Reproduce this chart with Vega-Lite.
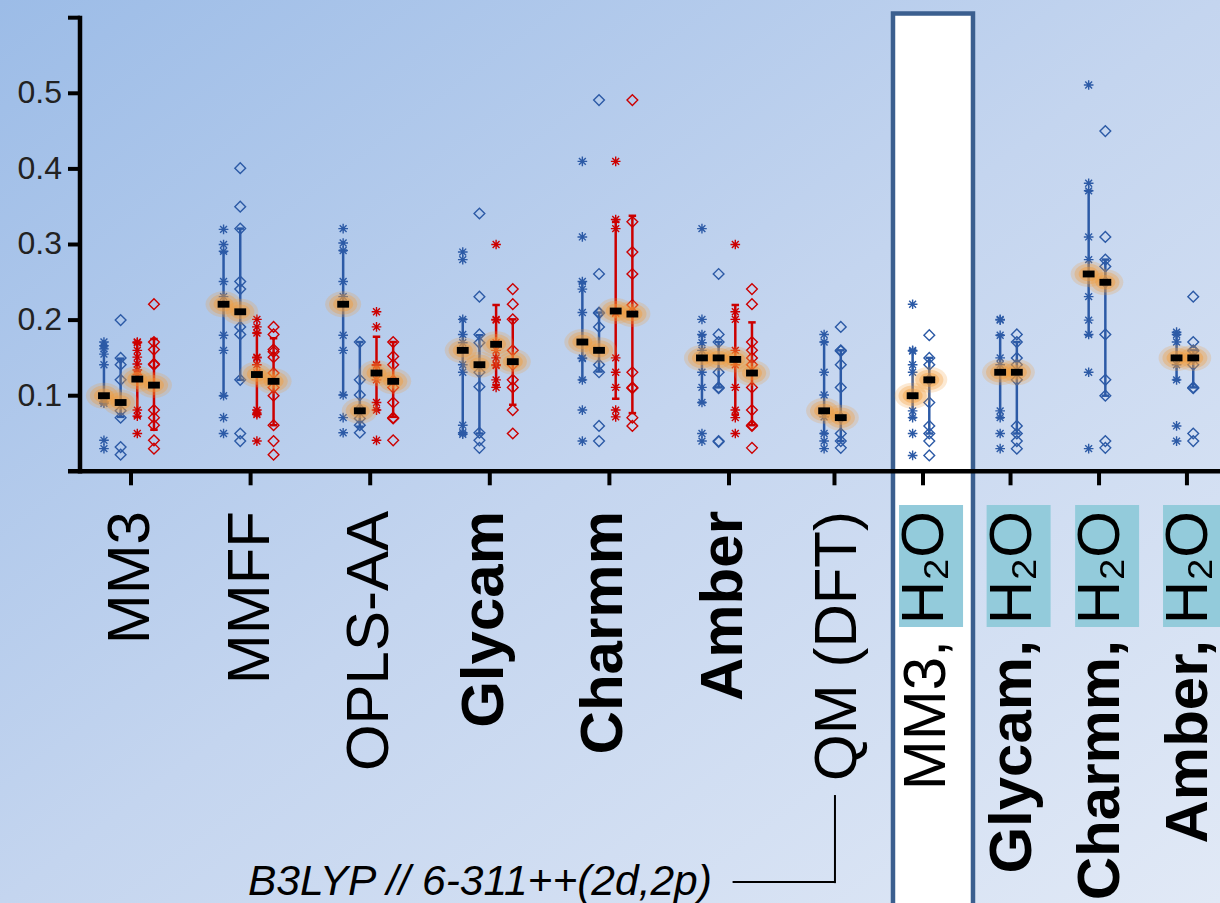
{
"$schema": "https://vega.github.io/schema/vega-lite/v6.json",
"width": 1220, "height": 903,
"autosize": {"type": "none"},
"padding": 0,
"background": "#c6d6ef",
"config": {"view": {"stroke": null}, "font": "Liberation Sans"},
"datasets": {
"grp": [
{"g":"MM3","pos":1,"n":4,"lab":"MM3","kind":"plain"},
{"g":"MMFF","pos":2,"n":4,"lab":"MMFF","kind":"plain"},
{"g":"OPLS","pos":3,"n":4,"lab":"OPLS-AA","kind":"plain"},
{"g":"Gly","pos":4,"n":4,"lab":"Glycam","kind":"bold"},
{"g":"Cha","pos":5,"n":4,"lab":"Charmm","kind":"bold"},
{"g":"Amb","pos":6,"n":4,"lab":"Amber","kind":"bold"},
{"g":"QM","pos":6.882,"n":2,"lab":"QM (DFT)","kind":"qm"},
{"g":"MM3w","pos":7.622,"n":2,"lab":"MM3,","kind":"water"},
{"g":"Glyw","pos":8.354,"n":2,"lab":"Glycam,","kind":"waterbold"},
{"g":"Chaw","pos":9.094,"n":2,"lab":"Charmm,","kind":"waterbold"},
{"g":"Ambw","pos":9.829,"n":2,"lab":"Amber,","kind":"waterbold"}
],
"yt": [{"v":0.1},{"v":0.2},{"v":0.3},{"v":0.4},{"v":0.5},{"v":0.6}],
"st": [
{"g":"MM3","s":"bs","m":0.100,"lo":0.090,"hi":0.165},
{"g":"MM3","s":"bd","m":0.091,"lo":0.072,"hi":0.149},
{"g":"MM3","s":"rs","m":0.122,"lo":0.072,"hi":0.170},
{"g":"MM3","s":"rd","m":0.114,"lo":0.055,"hi":0.175},
{"g":"MMFF","s":"bs","m":0.221,"lo":0.100,"hi":0.290},
{"g":"MMFF","s":"bd","m":0.211,"lo":0.121,"hi":0.321},
{"g":"MMFF","s":"rs","m":0.128,"lo":0.077,"hi":0.183},
{"g":"MMFF","s":"rd","m":0.119,"lo":0.061,"hi":0.176},
{"g":"OPLS","s":"bs","m":0.221,"lo":0.101,"hi":0.292},
{"g":"OPLS","s":"bd","m":0.080,"lo":0.059,"hi":0.171},
{"g":"OPLS","s":"rs","m":0.130,"lo":0.081,"hi":0.178},
{"g":"OPLS","s":"rd","m":0.119,"lo":0.072,"hi":0.171},
{"g":"Gly","s":"bs","m":0.160,"lo":0.050,"hi":0.201},
{"g":"Gly","s":"bd","m":0.141,"lo":0.050,"hi":0.180},
{"g":"Gly","s":"rs","m":0.168,"lo":0.114,"hi":0.220},
{"g":"Gly","s":"rd","m":0.145,"lo":0.088,"hi":0.201},
{"g":"Cha","s":"bs","m":0.171,"lo":0.121,"hi":0.249},
{"g":"Cha","s":"bd","m":0.160,"lo":0.132,"hi":0.210},
{"g":"Cha","s":"rs","m":0.212,"lo":0.096,"hi":0.330},
{"g":"Cha","s":"rd","m":0.208,"lo":0.077,"hi":0.338},
{"g":"Amb","s":"bs","m":0.150,"lo":0.091,"hi":0.180},
{"g":"Amb","s":"bd","m":0.150,"lo":0.111,"hi":0.171},
{"g":"Amb","s":"rs","m":0.148,"lo":0.075,"hi":0.220},
{"g":"Amb","s":"rd","m":0.130,"lo":0.061,"hi":0.197},
{"g":"QM","s":"bs","m":0.080,"lo":0.050,"hi":0.171},
{"g":"QM","s":"bd","m":0.071,"lo":0.040,"hi":0.160},
{"g":"MM3w","s":"bs","m":0.100,"lo":0.071,"hi":0.160},
{"g":"MM3w","s":"bd","m":0.121,"lo":0.050,"hi":0.150},
{"g":"Glyw","s":"bs","m":0.131,"lo":0.071,"hi":0.180},
{"g":"Glyw","s":"bd","m":0.131,"lo":0.050,"hi":0.171},
{"g":"Chaw","s":"bs","m":0.261,"lo":0.180,"hi":0.371},
{"g":"Chaw","s":"bd","m":0.250,"lo":0.100,"hi":0.280},
{"g":"Ambw","s":"bs","m":0.150,"lo":0.121,"hi":0.181},
{"g":"Ambw","s":"bd","m":0.150,"lo":0.111,"hi":0.160}
],
"pts": [
{"g":"MM3","s":"bs","v":0.171},{"g":"MM3","s":"bs","v":0.166},{"g":"MM3","s":"bs","v":0.162},{"g":"MM3","s":"bs","v":0.155},{"g":"MM3","s":"bs","v":0.141},{"g":"MM3","s":"bs","v":0.099},{"g":"MM3","s":"bs","v":0.092},{"g":"MM3","s":"bs","v":0.090},{"g":"MM3","s":"bs","v":0.041},{"g":"MM3","s":"bs","v":0.030},
{"g":"MM3","s":"bd","v":0.200},{"g":"MM3","s":"bd","v":0.150},{"g":"MM3","s":"bd","v":0.141},{"g":"MM3","s":"bd","v":0.121},{"g":"MM3","s":"bd","v":0.080},{"g":"MM3","s":"bd","v":0.071},{"g":"MM3","s":"bd","v":0.032},{"g":"MM3","s":"bd","v":0.022},
{"g":"MM3","s":"rs","v":0.171},{"g":"MM3","s":"rs","v":0.170},{"g":"MM3","s":"rs","v":0.160},{"g":"MM3","s":"rs","v":0.151},{"g":"MM3","s":"rs","v":0.142},{"g":"MM3","s":"rs","v":0.134},{"g":"MM3","s":"rs","v":0.128},{"g":"MM3","s":"rs","v":0.081},{"g":"MM3","s":"rs","v":0.073},{"g":"MM3","s":"rs","v":0.050},
{"g":"MM3","s":"rd","v":0.221},{"g":"MM3","s":"rd","v":0.171},{"g":"MM3","s":"rd","v":0.161},{"g":"MM3","s":"rd","v":0.142},{"g":"MM3","s":"rd","v":0.141},{"g":"MM3","s":"rd","v":0.081},{"g":"MM3","s":"rd","v":0.071},{"g":"MM3","s":"rd","v":0.061},{"g":"MM3","s":"rd","v":0.041},{"g":"MM3","s":"rd","v":0.030},
{"g":"MMFF","s":"bs","v":0.320},{"g":"MMFF","s":"bs","v":0.300},{"g":"MMFF","s":"bs","v":0.291},{"g":"MMFF","s":"bs","v":0.251},{"g":"MMFF","s":"bs","v":0.231},{"g":"MMFF","s":"bs","v":0.180},{"g":"MMFF","s":"bs","v":0.160},{"g":"MMFF","s":"bs","v":0.100},{"g":"MMFF","s":"bs","v":0.071},{"g":"MMFF","s":"bs","v":0.050},
{"g":"MMFF","s":"bd","v":0.401},{"g":"MMFF","s":"bd","v":0.350},{"g":"MMFF","s":"bd","v":0.321},{"g":"MMFF","s":"bd","v":0.251},{"g":"MMFF","s":"bd","v":0.241},{"g":"MMFF","s":"bd","v":0.191},{"g":"MMFF","s":"bd","v":0.181},{"g":"MMFF","s":"bd","v":0.121},{"g":"MMFF","s":"bd","v":0.050},{"g":"MMFF","s":"bd","v":0.040},
{"g":"MMFF","s":"rs","v":0.201},{"g":"MMFF","s":"rs","v":0.191},{"g":"MMFF","s":"rs","v":0.183},{"g":"MMFF","s":"rs","v":0.151},{"g":"MMFF","s":"rs","v":0.150},{"g":"MMFF","s":"rs","v":0.141},{"g":"MMFF","s":"rs","v":0.130},{"g":"MMFF","s":"rs","v":0.081},{"g":"MMFF","s":"rs","v":0.077},{"g":"MMFF","s":"rs","v":0.075},{"g":"MMFF","s":"rs","v":0.040},
{"g":"MMFF","s":"rd","v":0.191},{"g":"MMFF","s":"rd","v":0.181},{"g":"MMFF","s":"rd","v":0.161},{"g":"MMFF","s":"rd","v":0.158},{"g":"MMFF","s":"rd","v":0.151},{"g":"MMFF","s":"rd","v":0.130},{"g":"MMFF","s":"rd","v":0.111},{"g":"MMFF","s":"rd","v":0.100},{"g":"MMFF","s":"rd","v":0.061},{"g":"MMFF","s":"rd","v":0.040},{"g":"MMFF","s":"rd","v":0.022},
{"g":"OPLS","s":"bs","v":0.321},{"g":"OPLS","s":"bs","v":0.302},{"g":"OPLS","s":"bs","v":0.292},{"g":"OPLS","s":"bs","v":0.251},{"g":"OPLS","s":"bs","v":0.231},{"g":"OPLS","s":"bs","v":0.180},{"g":"OPLS","s":"bs","v":0.160},{"g":"OPLS","s":"bs","v":0.101},{"g":"OPLS","s":"bs","v":0.071},{"g":"OPLS","s":"bs","v":0.051},
{"g":"OPLS","s":"bd","v":0.171},{"g":"OPLS","s":"bd","v":0.121},{"g":"OPLS","s":"bd","v":0.101},{"g":"OPLS","s":"bd","v":0.082},{"g":"OPLS","s":"bd","v":0.070},{"g":"OPLS","s":"bd","v":0.061},{"g":"OPLS","s":"bd","v":0.051},
{"g":"OPLS","s":"rs","v":0.211},{"g":"OPLS","s":"rs","v":0.191},{"g":"OPLS","s":"rs","v":0.141},{"g":"OPLS","s":"rs","v":0.140},{"g":"OPLS","s":"rs","v":0.130},{"g":"OPLS","s":"rs","v":0.121},{"g":"OPLS","s":"rs","v":0.091},{"g":"OPLS","s":"rs","v":0.081},{"g":"OPLS","s":"rs","v":0.041},
{"g":"OPLS","s":"rd","v":0.171},{"g":"OPLS","s":"rd","v":0.152},{"g":"OPLS","s":"rd","v":0.141},{"g":"OPLS","s":"rd","v":0.120},{"g":"OPLS","s":"rd","v":0.111},{"g":"OPLS","s":"rd","v":0.091},{"g":"OPLS","s":"rd","v":0.071},{"g":"OPLS","s":"rd","v":0.070},{"g":"OPLS","s":"rd","v":0.041},
{"g":"Gly","s":"bs","v":0.290},{"g":"Gly","s":"bs","v":0.280},{"g":"Gly","s":"bs","v":0.201},{"g":"Gly","s":"bs","v":0.181},{"g":"Gly","s":"bs","v":0.170},{"g":"Gly","s":"bs","v":0.141},{"g":"Gly","s":"bs","v":0.131},{"g":"Gly","s":"bs","v":0.061},{"g":"Gly","s":"bs","v":0.051},{"g":"Gly","s":"bs","v":0.049},
{"g":"Gly","s":"bd","v":0.341},{"g":"Gly","s":"bd","v":0.231},{"g":"Gly","s":"bd","v":0.181},{"g":"Gly","s":"bd","v":0.170},{"g":"Gly","s":"bd","v":0.131},{"g":"Gly","s":"bd","v":0.112},{"g":"Gly","s":"bd","v":0.051},{"g":"Gly","s":"bd","v":0.041},{"g":"Gly","s":"bd","v":0.031},
{"g":"Gly","s":"rs","v":0.300},{"g":"Gly","s":"rs","v":0.201},{"g":"Gly","s":"rs","v":0.200},{"g":"Gly","s":"rs","v":0.170},{"g":"Gly","s":"rs","v":0.160},{"g":"Gly","s":"rs","v":0.150},{"g":"Gly","s":"rs","v":0.141},{"g":"Gly","s":"rs","v":0.140},{"g":"Gly","s":"rs","v":0.121},{"g":"Gly","s":"rs","v":0.111},
{"g":"Gly","s":"rd","v":0.241},{"g":"Gly","s":"rd","v":0.221},{"g":"Gly","s":"rd","v":0.201},{"g":"Gly","s":"rd","v":0.160},{"g":"Gly","s":"rd","v":0.141},{"g":"Gly","s":"rd","v":0.121},{"g":"Gly","s":"rd","v":0.111},{"g":"Gly","s":"rd","v":0.081},{"g":"Gly","s":"rd","v":0.050},
{"g":"Cha","s":"bs","v":0.410},{"g":"Cha","s":"bs","v":0.310},{"g":"Cha","s":"bs","v":0.251},{"g":"Cha","s":"bs","v":0.241},{"g":"Cha","s":"bs","v":0.210},{"g":"Cha","s":"bs","v":0.150},{"g":"Cha","s":"bs","v":0.149},{"g":"Cha","s":"bs","v":0.121},{"g":"Cha","s":"bs","v":0.081},{"g":"Cha","s":"bs","v":0.040},
{"g":"Cha","s":"bd","v":0.491},{"g":"Cha","s":"bd","v":0.261},{"g":"Cha","s":"bd","v":0.210},{"g":"Cha","s":"bd","v":0.209},{"g":"Cha","s":"bd","v":0.191},{"g":"Cha","s":"bd","v":0.141},{"g":"Cha","s":"bd","v":0.131},{"g":"Cha","s":"bd","v":0.060},{"g":"Cha","s":"bd","v":0.040},
{"g":"Cha","s":"rs","v":0.410},{"g":"Cha","s":"rs","v":0.333},{"g":"Cha","s":"rs","v":0.321},{"g":"Cha","s":"rs","v":0.210},{"g":"Cha","s":"rs","v":0.209},{"g":"Cha","s":"rs","v":0.150},{"g":"Cha","s":"rs","v":0.131},{"g":"Cha","s":"rs","v":0.111},{"g":"Cha","s":"rs","v":0.081},{"g":"Cha","s":"rs","v":0.072},
{"g":"Cha","s":"rd","v":0.491},{"g":"Cha","s":"rd","v":0.330},{"g":"Cha","s":"rd","v":0.290},{"g":"Cha","s":"rd","v":0.261},{"g":"Cha","s":"rd","v":0.220},{"g":"Cha","s":"rd","v":0.210},{"g":"Cha","s":"rd","v":0.131},{"g":"Cha","s":"rd","v":0.111},{"g":"Cha","s":"rd","v":0.110},{"g":"Cha","s":"rd","v":0.071},{"g":"Cha","s":"rd","v":0.060},
{"g":"Amb","s":"bs","v":0.321},{"g":"Amb","s":"bs","v":0.201},{"g":"Amb","s":"bs","v":0.181},{"g":"Amb","s":"bs","v":0.170},{"g":"Amb","s":"bs","v":0.160},{"g":"Amb","s":"bs","v":0.131},{"g":"Amb","s":"bs","v":0.111},{"g":"Amb","s":"bs","v":0.091},{"g":"Amb","s":"bs","v":0.050},{"g":"Amb","s":"bs","v":0.040},
{"g":"Amb","s":"bd","v":0.261},{"g":"Amb","s":"bd","v":0.181},{"g":"Amb","s":"bd","v":0.171},{"g":"Amb","s":"bd","v":0.131},{"g":"Amb","s":"bd","v":0.111},{"g":"Amb","s":"bd","v":0.110},{"g":"Amb","s":"bd","v":0.040},{"g":"Amb","s":"bd","v":0.039},
{"g":"Amb","s":"rs","v":0.300},{"g":"Amb","s":"rs","v":0.211},{"g":"Amb","s":"rs","v":0.201},{"g":"Amb","s":"rs","v":0.160},{"g":"Amb","s":"rs","v":0.141},{"g":"Amb","s":"rs","v":0.111},{"g":"Amb","s":"rs","v":0.081},{"g":"Amb","s":"rs","v":0.071},{"g":"Amb","s":"rs","v":0.050},
{"g":"Amb","s":"rd","v":0.241},{"g":"Amb","s":"rd","v":0.221},{"g":"Amb","s":"rd","v":0.171},{"g":"Amb","s":"rd","v":0.160},{"g":"Amb","s":"rd","v":0.150},{"g":"Amb","s":"rd","v":0.141},{"g":"Amb","s":"rd","v":0.111},{"g":"Amb","s":"rd","v":0.081},{"g":"Amb","s":"rd","v":0.061},{"g":"Amb","s":"rd","v":0.060},{"g":"Amb","s":"rd","v":0.031},
{"g":"QM","s":"bs","v":0.181},{"g":"QM","s":"bs","v":0.171},{"g":"QM","s":"bs","v":0.131},{"g":"QM","s":"bs","v":0.101},{"g":"QM","s":"bs","v":0.072},{"g":"QM","s":"bs","v":0.050},{"g":"QM","s":"bs","v":0.040},{"g":"QM","s":"bs","v":0.030},
{"g":"QM","s":"bd","v":0.191},{"g":"QM","s":"bd","v":0.160},{"g":"QM","s":"bd","v":0.159},{"g":"QM","s":"bd","v":0.141},{"g":"QM","s":"bd","v":0.111},{"g":"QM","s":"bd","v":0.071},{"g":"QM","s":"bd","v":0.050},{"g":"QM","s":"bd","v":0.040},{"g":"QM","s":"bd","v":0.031},
{"g":"MM3w","s":"bs","v":0.221},{"g":"MM3w","s":"bs","v":0.160},{"g":"MM3w","s":"bs","v":0.159},{"g":"MM3w","s":"bs","v":0.141},{"g":"MM3w","s":"bs","v":0.131},{"g":"MM3w","s":"bs","v":0.100},{"g":"MM3w","s":"bs","v":0.080},{"g":"MM3w","s":"bs","v":0.071},{"g":"MM3w","s":"bs","v":0.050},{"g":"MM3w","s":"bs","v":0.021},
{"g":"MM3w","s":"bd","v":0.180},{"g":"MM3w","s":"bd","v":0.150},{"g":"MM3w","s":"bd","v":0.141},{"g":"MM3w","s":"bd","v":0.121},{"g":"MM3w","s":"bd","v":0.091},{"g":"MM3w","s":"bd","v":0.060},{"g":"MM3w","s":"bd","v":0.050},{"g":"MM3w","s":"bd","v":0.040},{"g":"MM3w","s":"bd","v":0.021},
{"g":"Glyw","s":"bs","v":0.201},{"g":"Glyw","s":"bs","v":0.200},{"g":"Glyw","s":"bs","v":0.180},{"g":"Glyw","s":"bs","v":0.150},{"g":"Glyw","s":"bs","v":0.141},{"g":"Glyw","s":"bs","v":0.080},{"g":"Glyw","s":"bs","v":0.071},{"g":"Glyw","s":"bs","v":0.050},{"g":"Glyw","s":"bs","v":0.030},
{"g":"Glyw","s":"bd","v":0.181},{"g":"Glyw","s":"bd","v":0.171},{"g":"Glyw","s":"bd","v":0.150},{"g":"Glyw","s":"bd","v":0.141},{"g":"Glyw","s":"bd","v":0.121},{"g":"Glyw","s":"bd","v":0.060},{"g":"Glyw","s":"bd","v":0.050},{"g":"Glyw","s":"bd","v":0.040},{"g":"Glyw","s":"bd","v":0.030},
{"g":"Chaw","s":"bs","v":0.511},{"g":"Chaw","s":"bs","v":0.381},{"g":"Chaw","s":"bs","v":0.371},{"g":"Chaw","s":"bs","v":0.310},{"g":"Chaw","s":"bs","v":0.280},{"g":"Chaw","s":"bs","v":0.231},{"g":"Chaw","s":"bs","v":0.200},{"g":"Chaw","s":"bs","v":0.181},{"g":"Chaw","s":"bs","v":0.131},{"g":"Chaw","s":"bs","v":0.030},
{"g":"Chaw","s":"bd","v":0.450},{"g":"Chaw","s":"bd","v":0.310},{"g":"Chaw","s":"bd","v":0.280},{"g":"Chaw","s":"bd","v":0.271},{"g":"Chaw","s":"bd","v":0.250},{"g":"Chaw","s":"bd","v":0.181},{"g":"Chaw","s":"bd","v":0.121},{"g":"Chaw","s":"bd","v":0.100},{"g":"Chaw","s":"bd","v":0.040},{"g":"Chaw","s":"bd","v":0.031},
{"g":"Ambw","s":"bs","v":0.184},{"g":"Ambw","s":"bs","v":0.181},{"g":"Ambw","s":"bs","v":0.171},{"g":"Ambw","s":"bs","v":0.150},{"g":"Ambw","s":"bs","v":0.141},{"g":"Ambw","s":"bs","v":0.121},{"g":"Ambw","s":"bs","v":0.060},{"g":"Ambw","s":"bs","v":0.040},
{"g":"Ambw","s":"bd","v":0.231},{"g":"Ambw","s":"bd","v":0.171},{"g":"Ambw","s":"bd","v":0.160},{"g":"Ambw","s":"bd","v":0.159},{"g":"Ambw","s":"bd","v":0.150},{"g":"Ambw","s":"bd","v":0.141},{"g":"Ambw","s":"bd","v":0.111},{"g":"Ambw","s":"bd","v":0.110},{"g":"Ambw","s":"bd","v":0.050},{"g":"Ambw","s":"bd","v":0.040}
]
},
"layer": [
{"data": {"values": [{}]},
 "mark": {"type": "rect", "fill": {"gradient": "linear", "x1": 0, "y1": 0, "x2": 1, "y2": 1, "stops": [{"offset": 0, "color": "#9cbce7"}, {"offset": 0.5, "color": "#c4d5ef"}, {"offset": 1, "color": "#e1e9f6"}]}},
 "encoding": {
  "x": {"datum": -0.0953, "type": "quantitative", "scale": {"domain": [-0.0953, 10.1054], "nice": false, "zero": false}, "axis": null},
  "x2": {"datum": 10.1054},
  "y": {"datum": -0.571, "type": "quantitative", "scale": {"domain": [-0.571, 0.6234], "nice": false, "zero": false}, "axis": null},
  "y2": {"datum": 0.6234}}},
{"data": {"values": [{}]},
 "mark": {"type": "rect", "fill": "white", "stroke": "#3b5f8f", "strokeWidth": 4.5, "clip": true},
 "encoding": {"x": {"datum": 7.3712, "type": "quantitative"}, "x2": {"datum": 8.0401}, "y": {"datum": 0.6056, "type": "quantitative"}, "y2": {"datum": -0.65}}},
{"data": {"name": "grp"},
 "transform": [{"filter": {"field": "kind", "oneOf": ["water", "waterbold"]}}, {"calculate": "datum.pos - 0.2", "as": "b1"}, {"calculate": "datum.pos + 0.335", "as": "b2"}],
 "mark": {"type": "rect", "fill": "#93cbdb", "clip": true},
 "encoding": {"x": {"field": "b1", "type": "quantitative"}, "x2": {"field": "b2"}, "y": {"datum": -0.0446, "type": "quantitative"}, "y2": {"datum": -0.206}}},
{"data": {"values": [{}]},
 "mark": {"type": "rule", "color": "black", "strokeWidth": 4.5},
 "encoding": {"x": {"datum": 0.4732, "type": "quantitative"}, "x2": {"datum": 10.1054}, "y": {"datum": 0, "type": "quantitative"}}},
{"data": {"name": "grp"},
 "mark": {"type": "rule", "color": "black", "strokeWidth": 4},
 "encoding": {"x": {"field": "pos", "type": "quantitative"}, "y": {"datum": 0, "type": "quantitative"}, "y2": {"datum": -0.0185}}},
{"data": {"values": [{}]},
 "mark": {"type": "rule", "color": "black", "strokeWidth": 4.5},
 "encoding": {"x": {"datum": 0.5736, "type": "quantitative"}, "y": {"datum": -0.003, "type": "quantitative"}, "y2": {"datum": 0.6027}}},
{"data": {"name": "yt"},
 "mark": {"type": "rule", "color": "black", "strokeWidth": 4},
 "encoding": {"x": {"datum": 0.4732, "type": "quantitative"}, "x2": {"datum": 0.5736}, "y": {"field": "v", "type": "quantitative"}}},
{"data": {"name": "yt"},
 "transform": [{"filter": "datum.v < 0.55"}],
 "mark": {"type": "text", "align": "right", "baseline": "middle", "fontSize": 32, "color": "#222222"},
 "encoding": {"x": {"datum": 0.4231, "type": "quantitative"}, "y": {"field": "v", "type": "quantitative"}, "text": {"field": "v", "type": "quantitative", "format": ".1f"}}},
{"data": {"name": "grp"},
 "transform": [{"filter": {"field": "kind", "equal": "plain"}}],
 "mark": {"type": "text", "angle": 270, "align": "right", "baseline": "middle", "fontSize": 60, "color": "black"},
 "encoding": {"x": {"field": "pos", "type": "quantitative"}, "y": {"datum": -0.0525, "type": "quantitative"}, "text": {"field": "lab"}}},
{"data": {"name": "grp"},
 "transform": [{"filter": {"field": "kind", "equal": "qm"}}],
 "mark": {"type": "text", "angle": 270, "align": "right", "baseline": "middle", "fontSize": 60, "color": "black", "dy": 4},
 "encoding": {"x": {"field": "pos", "type": "quantitative"}, "y": {"datum": -0.0525, "type": "quantitative"}, "text": {"field": "lab"}}},
{"data": {"name": "grp"},
 "transform": [{"filter": {"field": "kind", "equal": "bold"}}],
 "mark": {"type": "text", "angle": 270, "align": "right", "baseline": "middle", "fontSize": 60, "fontWeight": "bold", "color": "black", "dy": -5},
 "encoding": {"x": {"field": "pos", "type": "quantitative"}, "y": {"datum": -0.0525, "type": "quantitative"}, "text": {"field": "lab"}}},
{"data": {"name": "grp"},
 "transform": [{"filter": {"field": "kind", "equal": "water"}}],
 "mark": {"type": "text", "angle": 270, "align": "right", "baseline": "middle", "fontSize": 60, "color": "black", "dy": 4, "clip": true},
 "encoding": {"x": {"field": "pos", "type": "quantitative"}, "y": {"datum": -0.2233, "type": "quantitative"}, "text": {"field": "lab"}}},
{"data": {"name": "grp"},
 "transform": [{"filter": {"field": "kind", "equal": "waterbold"}}],
 "mark": {"type": "text", "angle": 270, "align": "right", "baseline": "middle", "fontSize": 60, "fontWeight": "bold", "color": "black", "dy": 2, "clip": true},
 "encoding": {"x": {"field": "pos", "type": "quantitative"}, "y": {"datum": -0.2233, "type": "quantitative"}, "text": {"field": "lab"}}},
{"data": {"name": "grp"},
 "transform": [{"filter": {"field": "kind", "oneOf": ["water", "waterbold"]}}],
 "mark": {"type": "text", "angle": 270, "align": "right", "baseline": "middle", "fontSize": 60, "color": "black", "dy": 2, "text": "H₂O", "clip": true},
 "encoding": {"x": {"field": "pos", "type": "quantitative"}, "y": {"datum": -0.0525, "type": "quantitative"}}},
{"data": {"values": [{"t": "B3LYP // 6-311++(2d,2p)"}]},
 "mark": {"type": "text", "align": "left", "baseline": "middle", "fontSize": 42.5, "fontStyle": "italic", "color": "black"},
 "encoding": {"x": {"datum": 1.978, "type": "quantitative"}, "y": {"datum": -0.5433, "type": "quantitative"}, "text": {"field": "t"}}},
{"data": {"values": [{}]},
 "mark": {"type": "rule", "color": "black", "strokeWidth": 2},
 "encoding": {"x": {"datum": 6.03, "type": "quantitative"}, "x2": {"datum": 6.886}, "y": {"datum": -0.5433, "type": "quantitative"}}},
{"data": {"values": [{}]},
 "mark": {"type": "rule", "color": "black", "strokeWidth": 2},
 "encoding": {"x": {"datum": 6.886, "type": "quantitative"}, "y": {"datum": -0.5447, "type": "quantitative"}, "y2": {"datum": -0.4282}}},
{"data": {"name": "pts"},
 "transform": [{"lookup": "g", "from": {"data": {"name": "grp"}, "key": "g", "fields": ["pos", "n"]}}, {"calculate": "datum.pos - 0.017 + 0.1394 * (indexof(['bs','bd','rs','rd'], datum.s) - (datum.n - 1) / 2)", "as": "x"}],
 "mark": {"type": "point", "filled": false, "strokeWidth": 1.4, "opacity": 1, "size": 115},
 "encoding": {
  "x": {"field": "x", "type": "quantitative"},
  "y": {"field": "v", "type": "quantitative"},
  "color": {"field": "s", "type": "nominal", "scale": {"domain": ["bs", "bd", "rs", "rd"], "range": ["#2c5aa6", "#2c5aa6", "#cc0000", "#cc0000"]}, "legend": null},
  "shape": {"field": "s", "type": "nominal", "scale": {"domain": ["bs", "bd", "rs", "rd"], "range": ["M0,-0.9L0,0.9M-0.9,0L0.9,0M-0.64,-0.64L0.64,0.64M-0.64,0.64L0.64,-0.64", "diamond", "M0,-0.9L0,0.9M-0.9,0L0.9,0M-0.64,-0.64L0.64,0.64M-0.64,0.64L0.64,-0.64", "diamond"]}, "legend": null}}},
{"data": {"name": "st"},
 "transform": [{"lookup": "g", "from": {"data": {"name": "grp"}, "key": "g", "fields": ["pos", "n"]}}, {"calculate": "datum.pos - 0.017 + 0.1394 * (indexof(['bs','bd','rs','rd'], datum.s) - (datum.n - 1) / 2)", "as": "x"}],
 "mark": {"type": "rule", "strokeWidth": 2.5},
 "encoding": {"x": {"field": "x", "type": "quantitative"}, "y": {"field": "lo", "type": "quantitative"}, "y2": {"field": "hi"}, "color": {"field": "s", "type": "nominal", "legend": null}}},
{"data": {"name": "st"},
 "transform": [{"lookup": "g", "from": {"data": {"name": "grp"}, "key": "g", "fields": ["pos", "n"]}}, {"calculate": "datum.pos - 0.017 + 0.1394 * (indexof(['bs','bd','rs','rd'], datum.s) - (datum.n - 1) / 2)", "as": "x"}],
 "mark": {"type": "point", "shape": "M-1,0L1,0", "size": 56, "strokeWidth": 2.5, "filled": false, "opacity": 1},
 "encoding": {"x": {"field": "x", "type": "quantitative"}, "y": {"field": "lo", "type": "quantitative"}, "color": {"field": "s", "type": "nominal", "legend": null}}},
{"data": {"name": "st"},
 "transform": [{"lookup": "g", "from": {"data": {"name": "grp"}, "key": "g", "fields": ["pos", "n"]}}, {"calculate": "datum.pos - 0.017 + 0.1394 * (indexof(['bs','bd','rs','rd'], datum.s) - (datum.n - 1) / 2)", "as": "x"}],
 "mark": {"type": "point", "shape": "M-1,0L1,0", "size": 56, "strokeWidth": 2.5, "filled": false, "opacity": 1},
 "encoding": {"x": {"field": "x", "type": "quantitative"}, "y": {"field": "hi", "type": "quantitative"}, "color": {"field": "s", "type": "nominal", "legend": null}}},
{"data": {"name": "st"},
 "transform": [{"lookup": "g", "from": {"data": {"name": "grp"}, "key": "g", "fields": ["pos", "n"]}}, {"calculate": "datum.pos - 0.017 + 0.1394 * (indexof(['bs','bd','rs','rd'], datum.s) - (datum.n - 1) / 2)", "as": "x"}],
 "mark": {"type": "point", "shape": "M-1,0A1,0.72,0,1,0,1,0A1,0.72,0,1,0,-1,0Z", "filled": true, "color": "#f39a38", "opacity": 0.22, "size": 1300},
 "encoding": {"x": {"field": "x", "type": "quantitative"}, "y": {"field": "m", "type": "quantitative"}}},
{"data": {"name": "st"},
 "transform": [{"lookup": "g", "from": {"data": {"name": "grp"}, "key": "g", "fields": ["pos", "n"]}}, {"calculate": "datum.pos - 0.017 + 0.1394 * (indexof(['bs','bd','rs','rd'], datum.s) - (datum.n - 1) / 2)", "as": "x"}],
 "mark": {"type": "point", "shape": "M-1,0A1,0.72,0,1,0,1,0A1,0.72,0,1,0,-1,0Z", "filled": true, "color": "#f39a38", "opacity": 0.32, "size": 800},
 "encoding": {"x": {"field": "x", "type": "quantitative"}, "y": {"field": "m", "type": "quantitative"}}},
{"data": {"name": "st"},
 "transform": [{"lookup": "g", "from": {"data": {"name": "grp"}, "key": "g", "fields": ["pos", "n"]}}, {"calculate": "datum.pos - 0.017 + 0.1394 * (indexof(['bs','bd','rs','rd'], datum.s) - (datum.n - 1) / 2)", "as": "x"}],
 "mark": {"type": "point", "shape": "M-1,0A1,0.72,0,1,0,1,0A1,0.72,0,1,0,-1,0Z", "filled": true, "color": "#f39a38", "opacity": 0.42, "size": 400},
 "encoding": {"x": {"field": "x", "type": "quantitative"}, "y": {"field": "m", "type": "quantitative"}}},
{"data": {"name": "st"},
 "transform": [{"lookup": "g", "from": {"data": {"name": "grp"}, "key": "g", "fields": ["pos", "n"]}}, {"calculate": "datum.pos - 0.017 + 0.1394 * (indexof(['bs','bd','rs','rd'], datum.s) - (datum.n - 1) / 2)", "as": "x"}],
 "mark": {"type": "point", "shape": "M-1,-0.58L1,-0.58L1,0.58L-1,0.58Z", "filled": true, "color": "black", "opacity": 1, "size": 140},
 "encoding": {"x": {"field": "x", "type": "quantitative"}, "y": {"field": "m", "type": "quantitative"}}}
]
}
